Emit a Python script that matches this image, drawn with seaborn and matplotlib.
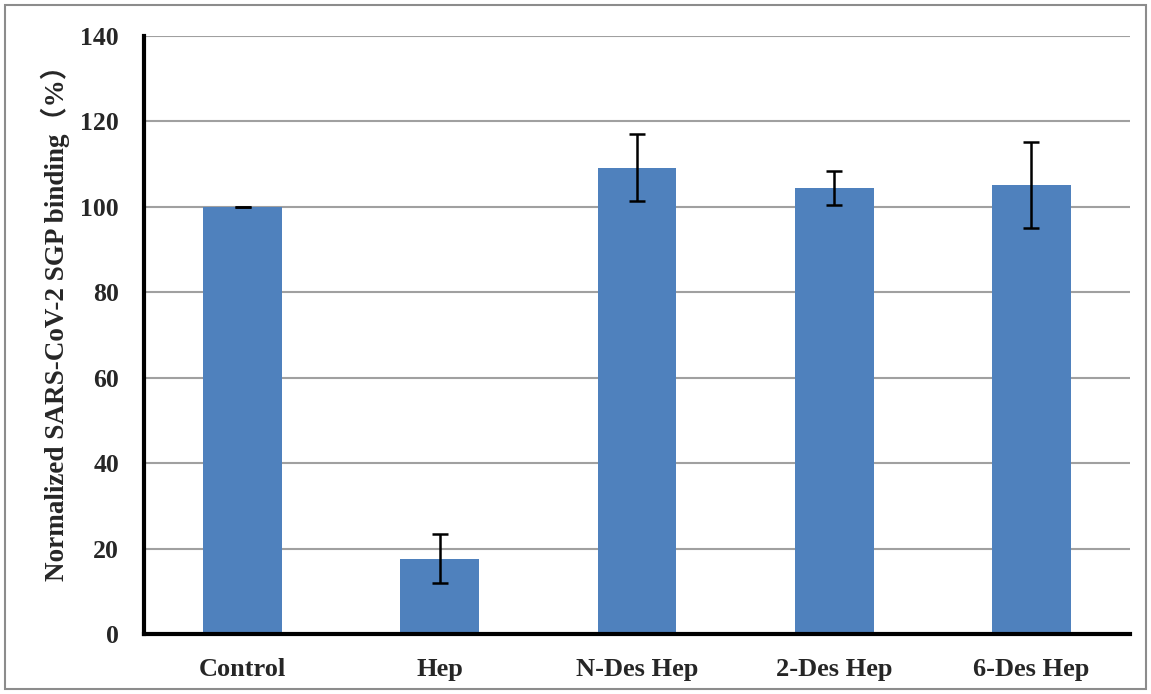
import matplotlib
matplotlib.use("Agg")
import matplotlib.pyplot as plt
import seaborn as sns
import pandas as pd
from matplotlib.patches import Rectangle

categories = ["Control", "Hep", "N-Des Hep", "2-Des Hep", "6-Des Hep"]
values = [100.0, 17.6, 109.2, 104.4, 105.2]
errors = [0.0, 5.7, 7.8, 3.9, 10.1]

sns.set_style("white")
plt.rcParams['font.family'] = ['Liberation Serif', 'Noto Sans CJK SC', 'DejaVu Serif']
plt.rcParams['font.weight'] = 'bold'

df = pd.DataFrame({"cat": categories, "val": values, "err": errors})

fig = plt.figure(figsize=(11.51, 6.94), dpi=100)
ax = fig.add_axes([144/1151, 1 - 634/694, (1130-144)/1151, (634-36)/694])

sns.barplot(data=df, x="cat", y="val", color="#4f81bd", saturation=1, width=0.4,
            errorbar=None, ax=ax, zorder=2, edgecolor="none")
xs = list(range(len(categories)))
ax.errorbar(xs, df["val"], yerr=df["err"], fmt="none", ecolor="black",
            elinewidth=1.8, capsize=6, capthick=1.8, zorder=3)

ax.set_ylim(0, 140)
ax.set_xlim(-0.5, len(categories) - 0.5)
ax.set_yticks(range(0, 141, 20))
ax.yaxis.grid(True, color="#a0a0a0", linewidth=1.5, zorder=0)
ax.set_axisbelow(True)
ax.set_xlabel("")
ax.set_ylabel("Normalized SARS-CoV-2 SGP binding（%）", fontsize=19.5, fontweight="bold")
ax.yaxis.set_label_coords(-0.075, 0.53)
ax.tick_params(axis="y", direction="in", length=5, width=2.5, labelsize=18.5, pad=18)
ax.tick_params(axis="x", length=0, labelsize=19, pad=17)
for lbl in ax.get_xticklabels() + ax.get_yticklabels():
    lbl.set_fontweight("bold")

for s in ["top", "right"]:
    ax.spines[s].set_visible(False)
for s in ["left", "bottom"]:
    ax.spines[s].set_color("black")
    ax.spines[s].set_linewidth(3)

fig.patches.append(Rectangle((5/1151, 5/694), 1 - 10/1151, 1 - 10/694, transform=fig.transFigure,
                             fill=False, edgecolor="#8c8c8c", linewidth=1.5))

fig.savefig("out.png", dpi=100)
